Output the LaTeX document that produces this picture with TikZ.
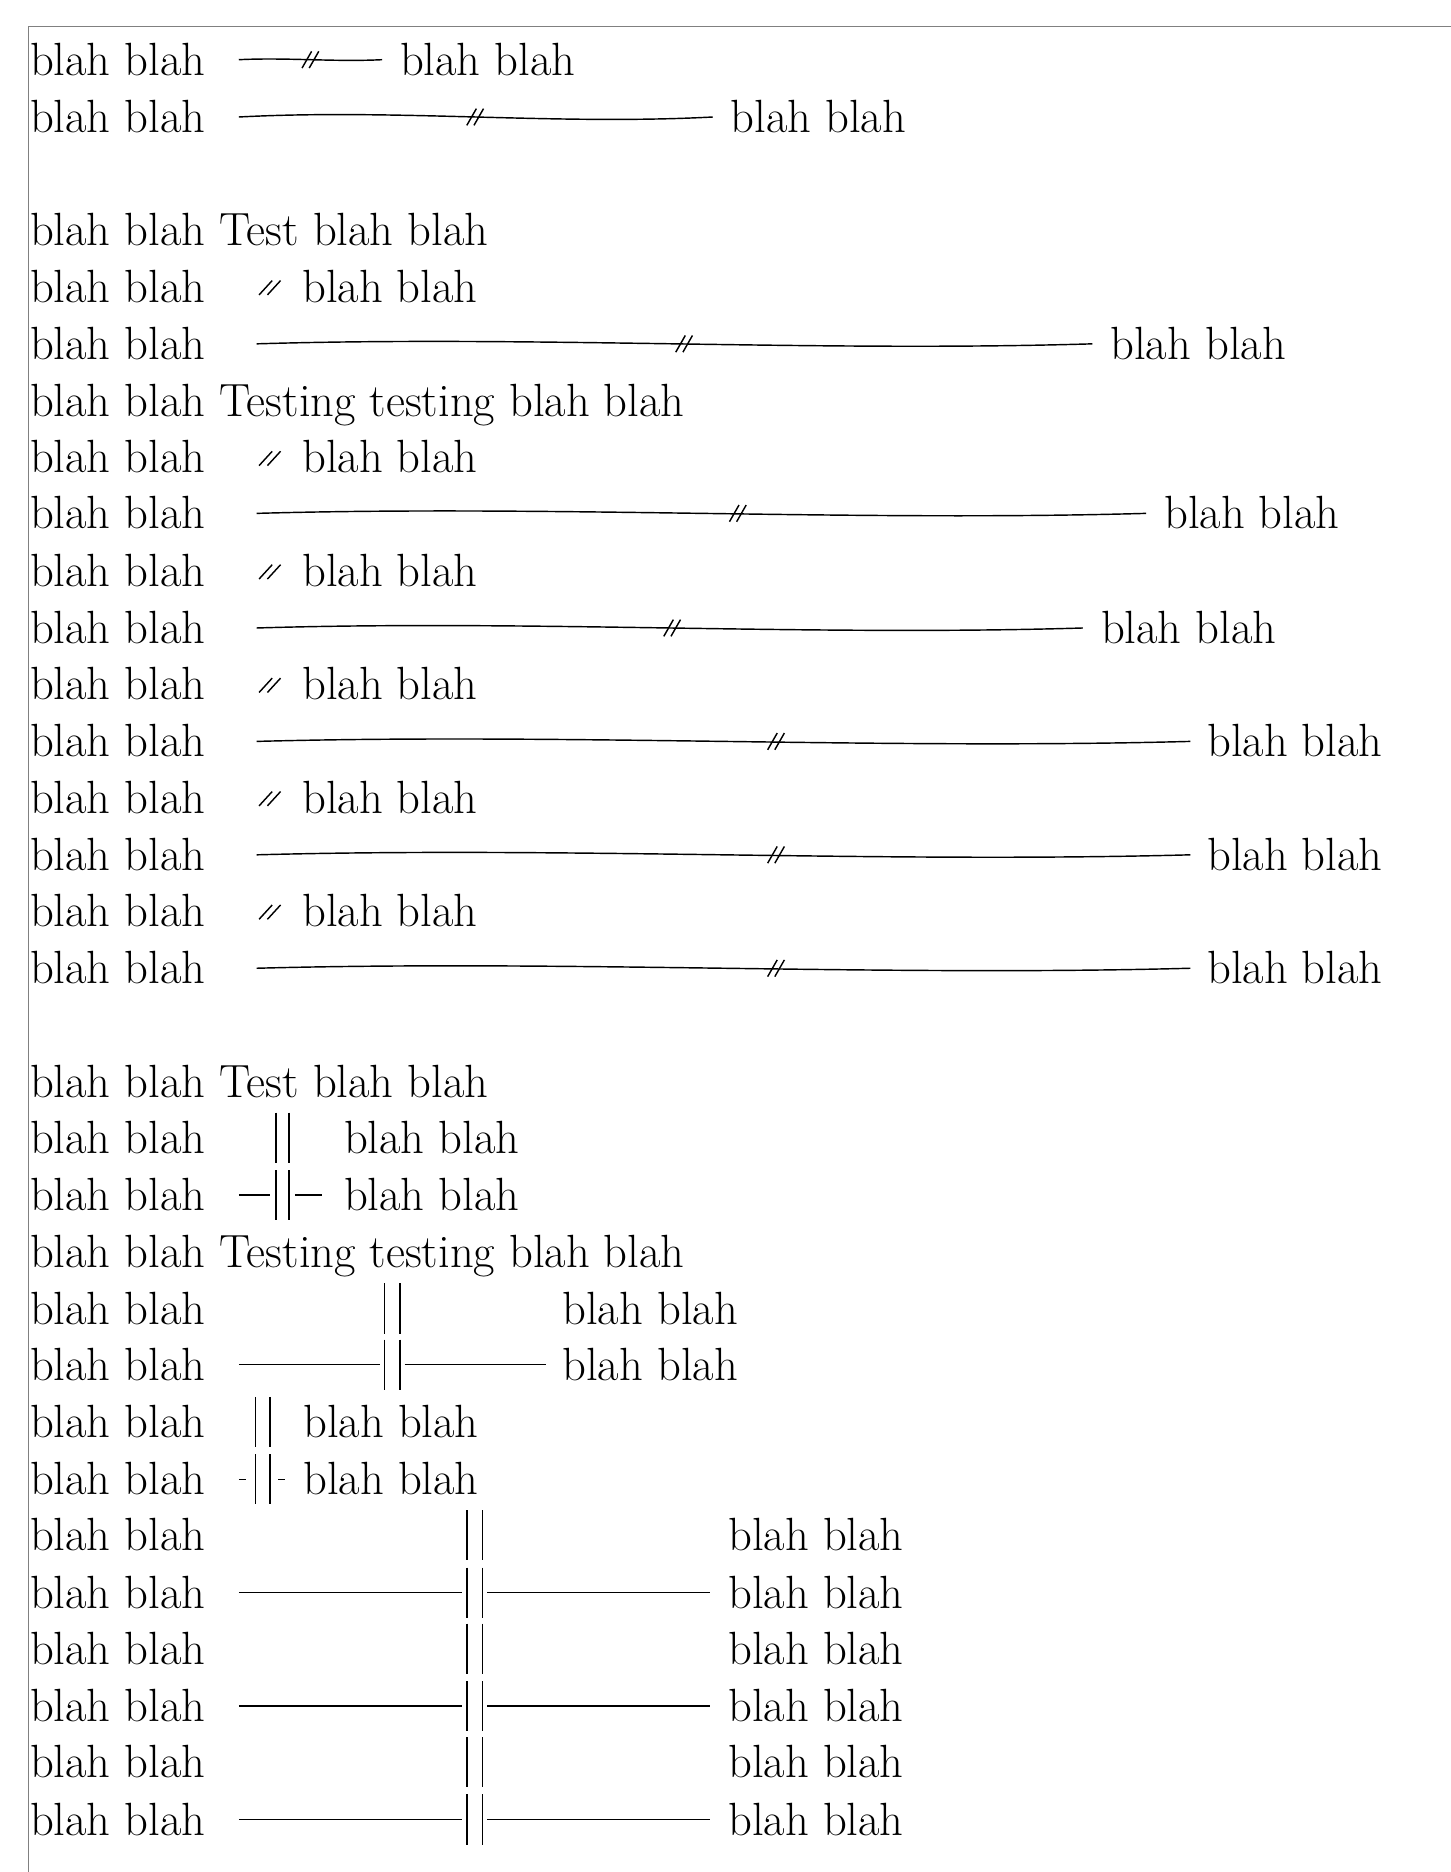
\documentclass[tikz,border=0pt]{standalone}
\usepackage{fontspec}
\begin{document}
\begin{tikzpicture}[x=1pt,y=-1pt,
  txt/.style={anchor=base west,inner sep=0pt,font=\fontsize{39}{47}\selectfont},
  ln/.style={line width=1.2pt}]
\useasboundingbox (0,0) rectangle (1215,1568);
\draw[gray,line width=1pt] (24,1568) -- (24,22) -- (1215,22);
\newcommand{\T}[3]{\node[txt] at (#1,#2+13) {#3};}
\newcommand{\tk}[2]{\draw[ln] (#1-9,#2+7) -- (#1-1,#2-7); \draw[ln] (#1-3,#2+7) -- (#1+5,#2-7);}
\newcommand{\wv}[5]{% y x1 x2 xt xtext
  \pgfmathsetmacro\La{(#3-#2)/3}\pgfmathsetmacro\Lb{2*(#3-#2)/3}
  \draw[ln] (#2,#1) .. controls (#2+\La,#1-7) and (#2+\Lb,#1+7) .. (#3,#1);
  \tk{#4}{#1}\T{25}{#1}{blah blah}\T{#5}{#1}{blah blah}}
\newcommand{\dsl}[1]{\draw[ln] (217,#1+7) -- (228,#1-5); \draw[ln] (224,#1+7) -- (235,#1-5);
  \T{25}{#1}{blah blah}\T{253}{#1}{blah blah}}
\newcommand{\bars}[3]{\draw[ln] (#1,#3-21) -- (#1,#3+21); \draw[ln] (#2,#3-21) -- (#2,#3+21);}
% top
\T{25}{50}{blah blah}\draw[ln] (200,50) .. controls (240,48) and (280,52) .. (320,50); \tk{262}{50}\T{335}{50}{blah blah}
\wv{98}{200}{597}{400}{612}
\T{25}{193}{blah blah Test blah blah}
\dsl{240}
\wv{288}{215}{915}{575}{930}
\T{25}{336}{blah blah Testing testing blah blah}
\dsl{383}
\wv{430}{215}{960}{620}{975}
\dsl{478}
\wv{526}{215}{907}{565}{922}
\dsl{573}
\wv{621}{215}{997}{652}{1011}
\dsl{668}
\wv{716}{215}{997}{652}{1011}
\dsl{763}
\wv{811}{215}{997}{652}{1011}
% bottom
\T{25}{906}{blah blah Test blah blah}
\T{25}{953}{blah blah}\bars{231}{242}{953}\T{288}{953}{blah blah}
\T{25}{1001}{blah blah}\draw[ln] (200,1001) -- (226,1001); \bars{231}{242}{1001}\draw[ln] (247,1001) -- (270,1001);\T{288}{1001}{blah blah}
\T{25}{1049}{blah blah Testing testing blah blah}
\T{25}{1096}{blah blah}\bars{322}{335}{1096}\T{471}{1096}{blah blah}
\T{25}{1143}{blah blah}\draw[ln] (200,1143) -- (318,1143); \bars{322}{335}{1143}\draw[ln] (339,1143) -- (457,1143);\T{471}{1143}{blah blah}
\T{25}{1191}{blah blah}\bars{214}{226}{1191}\T{254}{1191}{blah blah}
\T{25}{1239}{blah blah}\draw[ln] (200,1239) -- (206,1239); \bars{214}{226}{1239}\draw[ln] (233,1239) -- (239,1239);\T{254}{1239}{blah blah}
\foreach \y in {1286,1381,1476} {\T{25}{\y}{blah blah}\bars{391}{404}{\y}\T{610}{\y}{blah blah}}
\foreach \y in {1334,1429,1524} {\T{25}{\y}{blah blah}\draw[ln] (200,\y) -- (387,\y); \bars{391}{404}{\y}\draw[ln] (408,\y) -- (595,\y);\T{610}{\y}{blah blah}}
\end{tikzpicture}
\end{document}
